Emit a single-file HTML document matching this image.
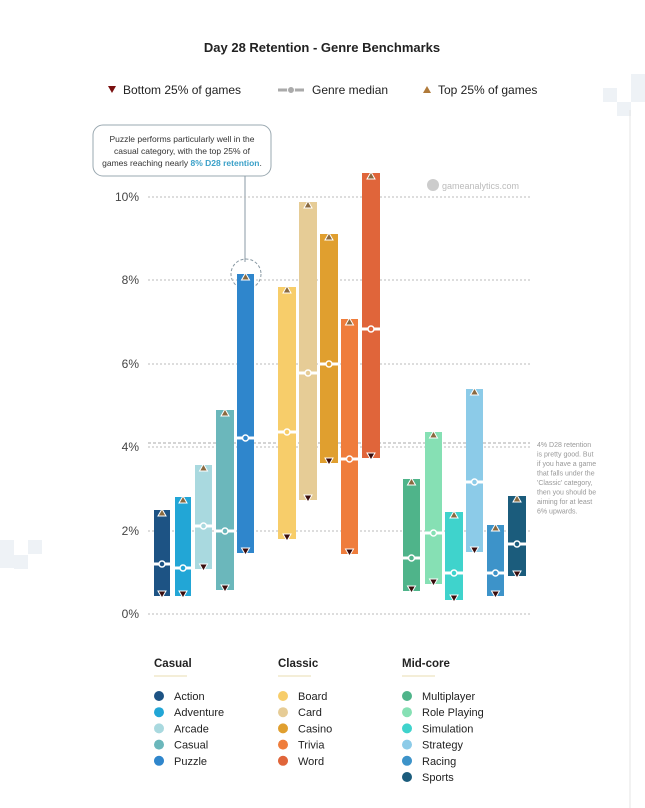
<!DOCTYPE html>
<html><head><meta charset="utf-8"><style>
html,body{margin:0;padding:0;background:#fff;}
svg{display:block;font-family:"Liberation Sans",sans-serif;}
</style></head><body>
<svg id="s" width="645" height="808" viewBox="0 0 645 808" xmlns="http://www.w3.org/2000/svg">
<rect x="0" y="0" width="645" height="808" fill="#fff"/>
<rect x="603" y="88" width="14" height="14" fill="#eef2f6"/>
<rect x="617" y="102" width="14" height="14" fill="#eef2f6"/>
<rect x="631" y="74" width="14" height="28" fill="#eef2f6"/>
<rect x="0" y="540" width="14" height="28" fill="#eef2f6"/>
<rect x="14" y="555" width="14" height="14" fill="#eef2f6"/>
<rect x="28" y="540" width="14" height="14" fill="#eef2f6"/>
<line x1="630" y1="110" x2="630" y2="808" stroke="#e4e4e4"/>
<text x="322" y="52" text-anchor="middle" font-size="13" font-weight="bold" fill="#222">Day 28 Retention - Genre Benchmarks</text>
<polygon points="108,86 116,86 112,93" fill="#7a1010"/>
<text x="123" y="94" font-size="12" fill="#222">Bottom 25% of games</text>
<line x1="278" y1="90" x2="304" y2="90" stroke="#aaa" stroke-width="3"/>
<circle cx="291" cy="90" r="3.5" fill="#aaa" stroke="#fff"/>
<text x="312" y="94" font-size="12" fill="#222">Genre median</text>
<polygon points="423,93 431,93 427,86" fill="#b07a3a"/>
<text x="438" y="94" font-size="12" fill="#222">Top 25% of games</text>
<rect x="93" y="125" width="178" height="51" rx="10" fill="#fff" stroke="#9aa8b0"/>
<text font-size="8.5" fill="#333" text-anchor="middle"><tspan x="182" y="142">Puzzle performs particularly well in the</tspan><tspan x="182" y="154">casual category, with the top 25% of</tspan><tspan x="182" y="166">games reaching nearly <tspan fill="#3aa0c8" font-weight="bold">8% D28 retention</tspan>.</tspan></text>
<line x1="245" y1="176" x2="245" y2="262" stroke="#8a9aa4"/>
<circle cx="246" cy="274" r="15" fill="none" stroke="#8a9aa4" stroke-dasharray="3,2"/>
<circle cx="433" cy="185" r="6" fill="#ccc"/>
<text x="442" y="189" font-size="9" fill="#bbb">gameanalytics.com</text>
<g id="grid" font-size="12" fill="#444"></g>
<text x="537" y="447" font-size="7" fill="#999"><tspan x="537">4% D28 retention</tspan><tspan x="537" dy="9.5">is pretty good. But</tspan><tspan x="537" dy="9.5">if you have a game</tspan><tspan x="537" dy="9.5">that falls under the</tspan><tspan x="537" dy="9.5">'Classic' category,</tspan><tspan x="537" dy="9.5">then you should be</tspan><tspan x="537" dy="9.5">aiming for at least</tspan><tspan x="537" dy="9.5">6% upwards.</tspan></text>
<g id="bars"></g>
<g id="leg" font-size="11" fill="#222"></g>
</svg>
<script>
var NS="http://www.w3.org/2000/svg";
function el(p,t,a,txt){var e=document.createElementNS(NS,t);for(var k in a)e.setAttribute(k,a[k]);if(txt)e.textContent=txt;p.appendChild(e);return e;}
var g=document.getElementById("grid");
[[0,614],[2,531],[4,447],[6,364],[8,280],[10,197]].forEach(function(d){
el(g,"line",{x1:148,y1:d[1],x2:530,y2:d[1],stroke:"#bbb","stroke-dasharray":"2,2"});
el(g,"text",{x:139,y:d[1]+4,"text-anchor":"end"},d[0]+"%");});
el(g,"line",{x1:148,y1:443,x2:530,y2:443,stroke:"#aaa","stroke-dasharray":"3,2"});
var B=[
[154,170,510,596,564,"#1d5384"],[175,191,497,596,568,"#22a6d6"],[195,212,465,569,526,"#a9d9df"],[216,234,410,590,531,"#6bb7bb"],[237,254,274,553,438,"#2f86cc"],
[278,296,287,539,432,"#f7cd6a"],[299,317,202,500,373,"#e6cc96"],[320,338,234,463,364,"#e09f2f"],[341,358,319,554,459,"#ef7d3c"],[362,380,173,458,329,"#e0653a"],
[403,420,479,591,558,"#4fb48a"],[425,442,432,584,533,"#86e0b4"],[445,463,512,600,573,"#3fd3cc"],[466,483,389,552,482,"#8ccbe8"],[487,504,525,596,573,"#3d93c9"],[508,526,496,576,544,"#1b5c7c"]];
var bg=document.getElementById("bars");
B.forEach(function(b){var w=b[1]-b[0],cx=(b[0]+b[1])/2;
el(bg,"rect",{x:b[0],y:b[2],width:w,height:b[3]-b[2],fill:b[5]});
el(bg,"line",{x1:b[0],y1:b[4],x2:b[1],y2:b[4],stroke:"#fff","stroke-width":3});
el(bg,"circle",{cx:cx,cy:b[4],r:3,fill:b[5],stroke:"#fff","stroke-width":1.5});
el(bg,"polygon",{points:(cx-4)+","+(b[2]+6)+" "+(cx+4)+","+(b[2]+6)+" "+cx+","+(b[2]-1),fill:"#8a6a40",stroke:"#fff","stroke-width":1});
el(bg,"polygon",{points:(cx-4)+","+(b[3]-5)+" "+(cx+4)+","+(b[3]-5)+" "+cx+","+(b[3]+2),fill:"#3a0d0d",stroke:"#fff","stroke-width":1});
});
var L=[["Casual",154,["Action","Adventure","Arcade","Casual","Puzzle"],0],["Classic",278,["Board","Card","Casino","Trivia","Word"],5],["Mid-core",402,["Multiplayer","Role Playing","Simulation","Strategy","Racing","Sports"],10]];
var lg=document.getElementById("leg");
L.forEach(function(c){el(lg,"text",{x:c[1],y:667,"font-weight":"bold","font-size":"11.5"},c[0]);
el(lg,"line",{x1:c[1],y1:676,x2:c[1]+33,y2:676,stroke:"#e8dcb0"});
c[2].forEach(function(n,i){var y=696+i*16.2;
el(lg,"circle",{cx:c[1]+5,cy:y,r:5,fill:B[c[3]+i][5]});
el(lg,"text",{x:c[1]+20,y:y+4},n);});});
</script>
</body></html>
